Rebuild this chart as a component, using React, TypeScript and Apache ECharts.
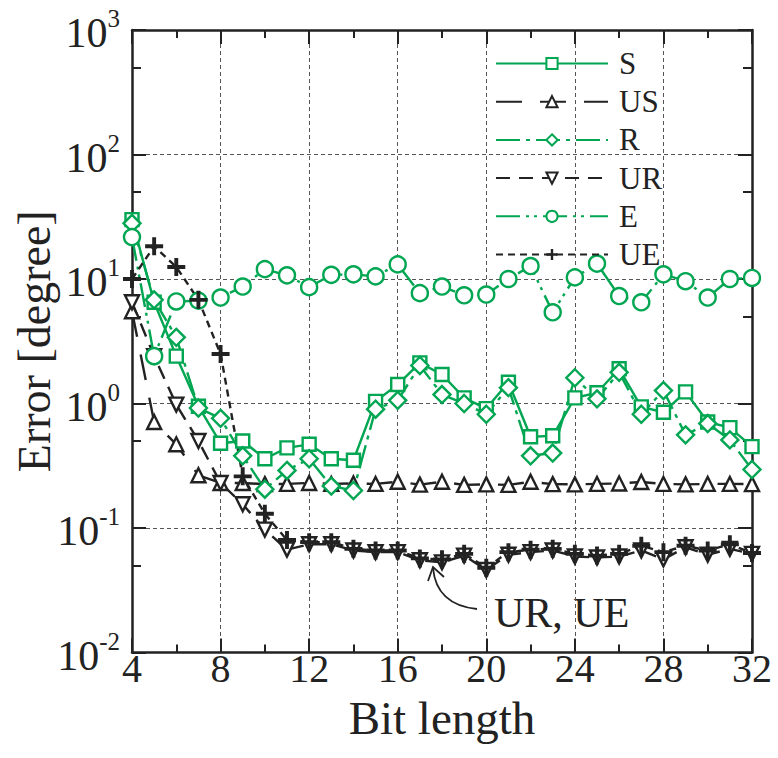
import React, { useEffect, useRef } from "react";
import * as echarts from "echarts";

const bitLength = [4, 5, 6, 7, 8, 9, 10, 11, 12, 13, 14, 15, 16, 17, 18, 19, 20, 21, 22, 23, 24, 25, 26, 27, 28, 29, 30, 31, 32];

const S = [30, 6.5, 2.4, 0.95, 0.48, 0.5, 0.36, 0.44, 0.47, 0.36, 0.35, 1.04, 1.42, 2.12, 1.71, 1.11, 0.91, 1.48, 0.54, 0.55, 1.11, 1.22, 1.9, 0.94, 0.85, 1.24, 0.71, 0.64, 0.45];
const US = [5.5, 0.71, 0.47, 0.265, 0.23, 0.23, 0.225, 0.226, 0.23, 0.226, 0.228, 0.226, 0.235, 0.223, 0.235, 0.222, 0.224, 0.222, 0.235, 0.225, 0.224, 0.226, 0.228, 0.234, 0.226, 0.224, 0.226, 0.226, 0.225];
const R = [28, 6.8, 3.4, 0.92, 0.76, 0.38, 0.205, 0.29, 0.36, 0.217, 0.2, 0.9, 1.06, 2.02, 1.18, 1.0, 0.82, 1.34, 0.38, 0.4, 1.61, 1.09, 1.78, 0.82, 1.27, 0.56, 0.69, 0.51, 0.295];
const UR = [6.5, 2.4, 0.98, 0.5, 0.23, 0.155, 0.097, 0.067, 0.074, 0.074, 0.066, 0.064, 0.064, 0.055, 0.053, 0.06, 0.046, 0.061, 0.064, 0.066, 0.059, 0.058, 0.059, 0.066, 0.056, 0.07, 0.061, 0.068, 0.062];
const E = [21.7, 2.4, 6.6, 6.7, 7.1, 8.7, 12, 10.7, 8.6, 10.8, 10.9, 10.5, 13.1, 7.7, 8.7, 7.4, 7.5, 10, 12.7, 5.4, 10.3, 13.3, 7.3, 6.5, 10.9, 9.6, 7.1, 10, 10.2];
const UE = [10, 18.3, 12.5, 6.8, 2.5, 0.26, 0.13, 0.08, 0.077, 0.077, 0.068, 0.066, 0.066, 0.057, 0.056, 0.062, 0.048, 0.064, 0.067, 0.068, 0.062, 0.06, 0.062, 0.072, 0.064, 0.072, 0.066, 0.074, 0.063];

const minorYTicks = [0.05, 0.5, 5, 50, 500];

const GREEN = "#00a651";
const BLACK = "#222222";
const FONT = "Liberation Serif";
const PLUS = "path://M-1.3,-6 L1.3,-6 L1.3,-1.3 L6,-1.3 L6,1.3 L1.3,1.3 L1.3,6 L-1.3,6 L-1.3,1.3 L-6,1.3 L-6,-1.3 L-1.3,-1.3 Z";

function mk(name: string, vals: number[], color: string, dash: any, symbol: string, size: number, extra: any = {}) {
  const hollow = symbol !== PLUS;
  return {
    name,
    type: "line",
    data: bitLength.map((x, i) => [x, vals[i]]),
    symbol,
    symbolSize: size,
    lineStyle: { color, width: 2.4, type: dash },
    itemStyle: hollow
      ? { color: "#ffffff", borderColor: color, borderWidth: 2.4 }
      : { color, borderWidth: 0 },
    emphasis: { disabled: true },
    silent: true,
    clip: false,
    ...extra,
  };
}

export default function App() {
  const ref = useRef<HTMLDivElement>(null);
  useEffect(() => {
    if (!ref.current) return;
    const chart = echarts.init(ref.current, undefined, { renderer: "svg" });
    const baseX = {
      type: "value",
      min: 4,
      max: 32,
      interval: 4,
      axisLine: { show: true, lineStyle: { color: BLACK, width: 2.5 } },
      axisTick: { show: true, inside: true, length: 14, lineStyle: { color: BLACK, width: 2 } },
      minorTick: { show: true, splitNumber: 2, length: 8, lineStyle: { color: BLACK, width: 2 } },
    };
    const baseY = {
      type: "log",
      logBase: 10,
      min: 0.01,
      max: 1000,
    };
    const labelFmt = (v: number) => {
      const e = Math.round(Math.log10(v));
      return `{b|10}{s|${e}}`;
    };
    const option: any = {
      animation: false,
      backgroundColor: "#ffffff",
      grid: { left: 132, right: 26, top: 30, bottom: 105.5, containLabel: false, outerBoundsMode: "none" },
      legend: {
        orient: "vertical",
        left: 490,
        top: 43,
        itemWidth: 112,
        itemHeight: 14,
        itemGap: 7.2,
        selectedMode: false,
        textStyle: { fontFamily: FONT, fontSize: 31, color: BLACK, lineHeight: 30, padding: [0, 0, 0, 6] },
        data: ["S", "US", "R", "UR", "E", "UE"],
      },
      xAxis: [
        {
          ...baseX,
          position: "bottom",
          name: "Bit length",
          nameLocation: "middle",
          nameGap: 42,
          nameMoveOverlap: false,
          nameTextStyle: { fontFamily: FONT, fontSize: 47, color: BLACK },
          axisLabel: { fontFamily: FONT, fontSize: 40, color: BLACK, margin: -4 },
          splitLine: { show: true, lineStyle: { color: "#555", width: 1, type: [4, 3] } },
        },
        {
          ...baseX,
          position: "top",
          axisLabel: { show: false },
          splitLine: { show: false },
        },
      ],
      yAxis: [
        {
          ...baseY,
          position: "left",
          name: "Error [degree]",
          nameLocation: "middle",
          nameGap: 75,
          nameMoveOverlap: false,
          nameTextStyle: { fontFamily: FONT, fontSize: 46, color: BLACK, lineHeight: 46 },
          axisLine: { show: true, lineStyle: { color: BLACK, width: 2.5 } },
          axisTick: { show: true, inside: true, length: 14, lineStyle: { color: BLACK, width: 2 } },
          axisLabel: {
            margin: 12,
            formatter: labelFmt,
            rich: {
              b: { fontFamily: FONT, fontSize: 42, color: BLACK, padding: [6, 0, 0, 0] },
              s: { fontFamily: FONT, fontSize: 25, color: BLACK, verticalAlign: "top" },
            },
          },
          splitLine: { show: true, lineStyle: { color: "#555", width: 1, type: [4, 3] } },
        },
        {
          ...baseY,
          position: "right",
          axisLine: { show: true, lineStyle: { color: BLACK, width: 2.5 } },
          axisTick: { show: true, inside: true, length: 14, lineStyle: { color: BLACK, width: 2 } },
          axisLabel: { show: false },
          splitLine: { show: false },
        },
        {
          ...baseY,
          position: "left",
          axisLine: { show: false },
          axisTick: { show: true, inside: true, length: 9, customValues: minorYTicks, lineStyle: { color: BLACK, width: 2 } },
          axisLabel: { show: false },
          splitLine: { show: false },
        },
        {
          ...baseY,
          position: "right",
          axisLine: { show: false },
          axisTick: { show: true, inside: true, length: 9, customValues: minorYTicks, lineStyle: { color: BLACK, width: 2 } },
          axisLabel: { show: false },
          splitLine: { show: false },
        },
      ],
      series: [
        mk("S", S, GREEN, "solid", "rect", 13),
        mk("US", US, BLACK, [26, 18], "triangle", 14),
        mk("R", R, GREEN, [24, 6, 4, 6], "diamond", 17),
        mk("UR", UR, BLACK, [14, 9], "triangle", 14, { symbolRotate: 180 }),
        mk("E", E, GREEN, [24, 6, 3, 5, 3, 6], "circle", 16),
        mk("UE", UE, BLACK, [7, 5], PLUS, 18),
      ],
      graphic: [
        {
          type: "text",
          silent: true,
          style: { text: "UR, UE", x: 494, y: 613, fill: BLACK, font: `42px "${FONT}"`, textVerticalAlign: "middle", verticalAlign: "middle" },
        },
        {
          type: "bezierCurve",
          silent: true,
          shape: { x1: 477, y1: 609, cpx1: 448, cpy1: 606, cpx2: 435, cpy2: 590, x2: 433, y2: 568 },
          style: { stroke: BLACK, lineWidth: 1.8, fill: "none" },
        },
        {
          type: "polyline",
          silent: true,
          shape: { points: [[428, 581], [433, 567], [444, 577]] },
          style: { stroke: BLACK, lineWidth: 1.8, fill: "none" },
        },
      ],
    };
    chart.setOption(option);
    return () => chart.dispose();
  }, []);
  return <div ref={ref} style={{ position: "fixed", left: 0, top: 0, width: 778, height: 758, background: "#fff" }} />;
}
